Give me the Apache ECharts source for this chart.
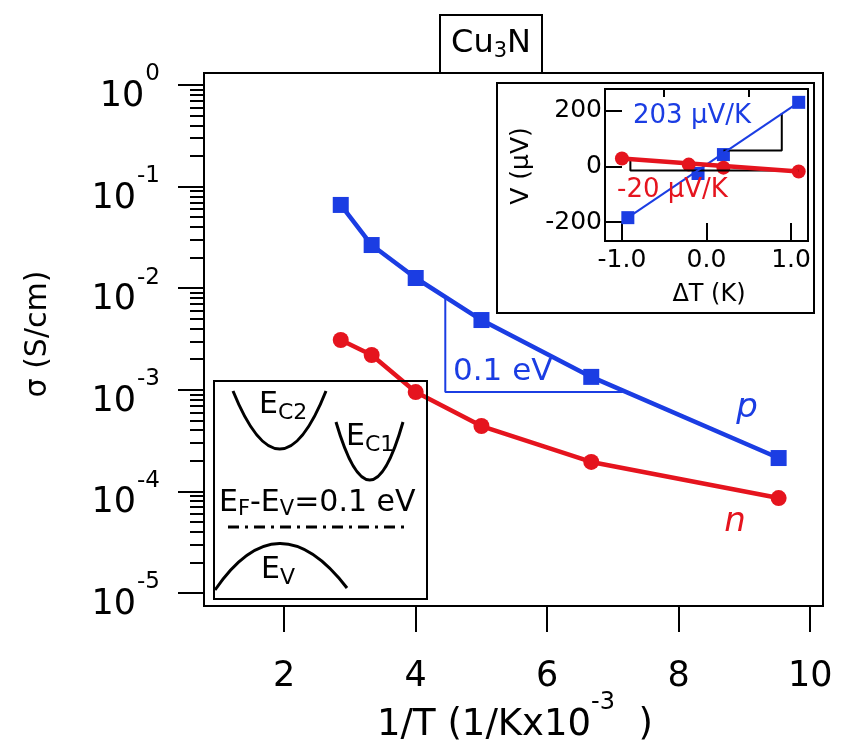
<!DOCTYPE html>
<html><head><meta charset="utf-8">
<script src="https://cdn.jsdelivr.net/npm/echarts@6/dist/echarts.min.js"></script>
<style>html,body{margin:0;padding:0;background:#fff}#c{width:850px;height:747px}</style>
</head><body><div id="c"></div>
<script>
// ---- main panel data ----
const invT   = [2.86, 3.33, 4.0, 5.0, 6.67, 9.52];
const sigmaP = [0.066, 0.0266, 0.0126, 0.00486, 0.00134, 0.000213];
const sigmaN = [0.00309, 0.0022, 0.00095, 0.00044, 0.000195, 0.000086];
const xTicks = [2, 4, 6, 8, 10];
const slopeX = [4.45, 4.45, 7.15];
const slopeY = [0.0080, 0.00095, 0.00095];
// ---- inset (Seebeck) data ----
const dT_p = [-0.93, -0.10, 0.20, 1.09];
const V_p  = [-184, -25, 43, 231];
const dT_n = [-1.0, -0.21, 0.20, 1.09];
const V_n  = [29, 7, -4, -18];
const insetXTicks = [-1, 0, 1];
const insetXMinor = [-0.5, 0.5];
const insetYTicks = [-200, 0, 200];
const pTriX = [0.20, 0.89, 0.89];
const pTriV = [58, 58, 191];
const nTriX = [-0.90, -0.90, 1.09];
const nTriV = [22, -14, -14];

const FONT = 'DejaVu Sans';
const BLUE = '#1b3de3';
const RED = '#e5141e';

const minorLogs = [];
for (let n = -5; n < 0; n++) for (let k = 2; k <= 9; k++) minorLogs.push(Math.log10(k) + n);

const zip = (a, b) => a.map((v, i) => [v, b[i]]);
const sub = (size, pad) => ({fontSize: size, fontFamily: FONT, fill: '#000', padding: [pad, 0, 0, 0]});

const chart = echarts.init(document.getElementById('c'), null, {renderer: 'canvas'});
chart.setOption({
  animation: false,
  backgroundColor: '#fff',
  textStyle: {fontFamily: FONT, color: '#000'},
  grid: [
    {left: 204, right: 26, top: 85, bottom: 154},
    {left: 605, top: 89, width: 203, height: 152, show: true, borderColor: '#000', borderWidth: 2, backgroundColor: 'transparent'}
  ],
  xAxis: [
    {gridIndex: 0, type: 'value', min: 0.78, max: 10.21, offset: 13,
     axisLine: {show: false, onZero: false}, splitLine: {show: false},
     axisTick: {customValues: xTicks, length: 26, lineStyle: {color: '#000', width: 2}},
     axisLabel: {customValues: xTicks, fontSize: 35, color: '#000', fontFamily: FONT, margin: 53}},
    {gridIndex: 1, type: 'value', min: -1.2, max: 1.2,
     axisLine: {show: false, onZero: false}, splitLine: {show: false},
     axisTick: {inside: true, customValues: insetXTicks, length: 18, lineStyle: {color: '#000', width: 2}},
     axisLabel: {customValues: insetXTicks, fontSize: 25, color: '#000', fontFamily: FONT, margin: 7,
                 formatter: v => v.toFixed(1)}},
    {gridIndex: 1, type: 'value', min: -1.2, max: 1.2,
     axisLine: {show: false, onZero: false}, splitLine: {show: false},
     axisTick: {inside: true, customValues: insetXMinor, length: 8, lineStyle: {color: '#000', width: 2}},
     axisLabel: {show: false}}
  ],
  yAxis: [
    {gridIndex: 0, type: 'log', logBase: 10, min: 1e-5, max: 1,
     axisLine: {show: false, onZero: false}, splitLine: {show: false},
     axisTick: {length: 26, lineStyle: {color: '#000', width: 2}},
     axisLabel: {margin: 44, color: '#000', fontFamily: FONT,
       formatter: v => '{b|10}{s|' + Math.round(Math.log10(v)) + '}',
       rich: {
         b: {fontSize: 35, fontFamily: FONT, color: '#000', padding: [24, 0, 0, 0]},
         s: {fontSize: 23, fontFamily: FONT, color: '#000', padding: [0, 0, 21, 1]}
       }}},
    {gridIndex: 0, type: 'value', min: -5, max: 0, position: 'left',
     axisLine: {show: false, onZero: false}, splitLine: {show: false},
     axisTick: {customValues: minorLogs, length: 14, lineStyle: {color: '#000', width: 2}},
     axisLabel: {show: false}},
    {gridIndex: 1, type: 'value', min: -268, max: 279,
     axisLine: {show: false, onZero: false}, splitLine: {show: false},
     axisTick: {inside: true, customValues: insetYTicks, length: 17, lineStyle: {color: '#000', width: 2}},
     axisLabel: {customValues: insetYTicks, fontSize: 25, color: '#000', fontFamily: FONT, margin: 3}}
  ],
  series: [
    {type: 'line', xAxisIndex: 0, yAxisIndex: 0, data: zip(slopeX, slopeY), symbol: 'none',
     lineStyle: {color: BLUE, width: 2}, z: 1},
    {type: 'line', xAxisIndex: 0, yAxisIndex: 0, data: zip(invT, sigmaP), symbol: 'rect', symbolSize: 16,
     itemStyle: {color: BLUE}, lineStyle: {color: BLUE, width: 4.5}},
    {type: 'line', xAxisIndex: 0, yAxisIndex: 0, data: zip(invT, sigmaN), symbol: 'circle', symbolSize: 16,
     itemStyle: {color: RED}, lineStyle: {color: RED, width: 4.5}},
    // inset
    {type: 'line', xAxisIndex: 1, yAxisIndex: 2, data: zip(pTriX, pTriV), symbol: 'none',
     lineStyle: {color: '#000', width: 2}},
    {type: 'line', xAxisIndex: 1, yAxisIndex: 2, data: zip(nTriX, nTriV), symbol: 'none',
     lineStyle: {color: '#000', width: 2}},
    {type: 'line', xAxisIndex: 1, yAxisIndex: 2,
     data: [[dT_p[0], V_p[0]], [dT_p[dT_p.length - 1], V_p[V_p.length - 1]]], symbol: 'none',
     lineStyle: {color: BLUE, width: 2}},
    {type: 'scatter', xAxisIndex: 1, yAxisIndex: 2, data: zip(dT_p, V_p), symbol: 'rect', symbolSize: 13,
     itemStyle: {color: BLUE, opacity: 1}},
    {type: 'line', xAxisIndex: 1, yAxisIndex: 2,
     data: [[dT_n[0], V_n[0]], [dT_n[dT_n.length - 1], V_n[V_n.length - 1]]], symbol: 'none',
     lineStyle: {color: RED, width: 4.5}},
    {type: 'scatter', xAxisIndex: 1, yAxisIndex: 2, data: zip(dT_n, V_n), symbol: 'circle', symbolSize: 14,
     itemStyle: {color: RED, opacity: 1}}
  ],
  graphic: [
    // main frame
    {type: 'rect', shape: {x: 204, y: 73, width: 619, height: 533}, style: {fill: 'none', stroke: '#000', lineWidth: 2}, z: 5},
    // title box
    {type: 'rect', shape: {x: 440, y: 15, width: 102, height: 58}, style: {fill: '#fff', stroke: '#000', lineWidth: 2}, z: 10},
    {type: 'text', x: 491, y: 44, z: 11, style: {text: '{b|Cu}{s|3}{b|N}', align: 'center', verticalAlign: 'middle',
      rich: {b: {fontSize: 32, fontFamily: FONT, fill: '#000'}, s: sub(21, 16)}}},
    // inset outer box
    {type: 'rect', shape: {x: 497, y: 83, width: 317, height: 230}, style: {fill: 'none', stroke: '#000', lineWidth: 2}, z: 5},
    {type: 'text', x: 521, y: 166, rotation: Math.PI / 2, z: 6,
     style: {text: 'V (µV)', align: 'center', verticalAlign: 'middle', fontSize: 25, fontFamily: FONT, fill: '#000'}},
    {type: 'text', x: 709, y: 295, z: 6,
     style: {text: 'ΔT (K)', align: 'center', verticalAlign: 'middle', fontSize: 24, fontFamily: FONT, fill: '#000'}},
    {type: 'text', x: 633, y: 116, z: 6,
     style: {text: '203 µV/K', align: 'left', verticalAlign: 'middle', fontSize: 26, fontFamily: FONT, fill: BLUE}},
    {type: 'text', x: 617, y: 190, z: 6,
     style: {text: '-20 µV/K', align: 'left', verticalAlign: 'middle', fontSize: 26, fontFamily: FONT, fill: RED}},
    // main annotations
    {type: 'text', x: 453, y: 372, z: 6,
     style: {text: '0.1 eV', align: 'left', verticalAlign: 'middle', fontSize: 31, fontFamily: FONT, fill: BLUE}},
    {type: 'text', x: 747, y: 408, z: 6,
     style: {text: 'p', align: 'center', verticalAlign: 'middle', fontSize: 34, fontStyle: 'italic', fontFamily: FONT, fill: BLUE}},
    {type: 'text', x: 735, y: 522, z: 6,
     style: {text: 'n', align: 'center', verticalAlign: 'middle', fontSize: 34, fontStyle: 'italic', fontFamily: FONT, fill: RED}},
    // axis titles
    {type: 'text', x: 38, y: 334, rotation: Math.PI / 2, z: 6,
     style: {text: 'σ (S/cm)', align: 'center', verticalAlign: 'middle', fontSize: 30, fontFamily: FONT, fill: '#000'}},
    {type: 'text', x: 515, y: 725, z: 6,
     style: {text: '{b|1/T (1/Kx10}{s|-3}{b|  )}', align: 'center', verticalAlign: 'middle',
       rich: {b: {fontSize: 37, fontFamily: FONT, fill: '#000'}, s: {fontSize: 24, fontFamily: FONT, fill: '#000', padding: [0, 0, 44, 0]}}}},
    // band diagram inset
    {type: 'rect', shape: {x: 214, y: 381, width: 213, height: 218}, style: {fill: 'none', stroke: '#000', lineWidth: 2}, z: 5},
    {type: 'bezierCurve', shape: {x1: 233, y1: 391, x2: 326, y2: 391, cpx1: 280, cpy1: 507}, style: {fill: 'none', stroke: '#000', lineWidth: 3}, z: 5},
    {type: 'bezierCurve', shape: {x1: 336, y1: 422, x2: 403, y2: 422, cpx1: 370, cpy1: 538}, style: {fill: 'none', stroke: '#000', lineWidth: 3}, z: 5},
    {type: 'bezierCurve', shape: {x1: 215, y1: 590, x2: 347, y2: 588, cpx1: 278, cpy1: 498}, style: {fill: 'none', stroke: '#000', lineWidth: 3}, z: 5},
    {type: 'line', shape: {x1: 228, y1: 527, x2: 404, y2: 527}, style: {stroke: '#000', lineWidth: 3, lineDash: [11, 6, 3, 6]}, z: 5},
    {type: 'text', x: 259, y: 405, z: 6, style: {text: '{b|E}{s|C2}', align: 'left', verticalAlign: 'middle',
      rich: {b: {fontSize: 30, fontFamily: FONT, fill: '#000'}, s: sub(22, 16)}}},
    {type: 'text', x: 346, y: 437, z: 6, style: {text: '{b|E}{s|C1}', align: 'left', verticalAlign: 'middle',
      rich: {b: {fontSize: 30, fontFamily: FONT, fill: '#000'}, s: sub(22, 16)}}},
    {type: 'text', x: 219, y: 503, z: 6, style: {text: '{b|E}{s|F}{b|-E}{s|V}{b|=0.1 eV}', align: 'left', verticalAlign: 'middle',
      rich: {b: {fontSize: 30, fontFamily: FONT, fill: '#000'}, s: sub(21, 14)}}},
    {type: 'text', x: 261, y: 570, z: 6, style: {text: '{b|E}{s|V}', align: 'left', verticalAlign: 'middle',
      rich: {b: {fontSize: 30, fontFamily: FONT, fill: '#000'}, s: sub(22, 16)}}}
  ]
});
</script></body></html>
